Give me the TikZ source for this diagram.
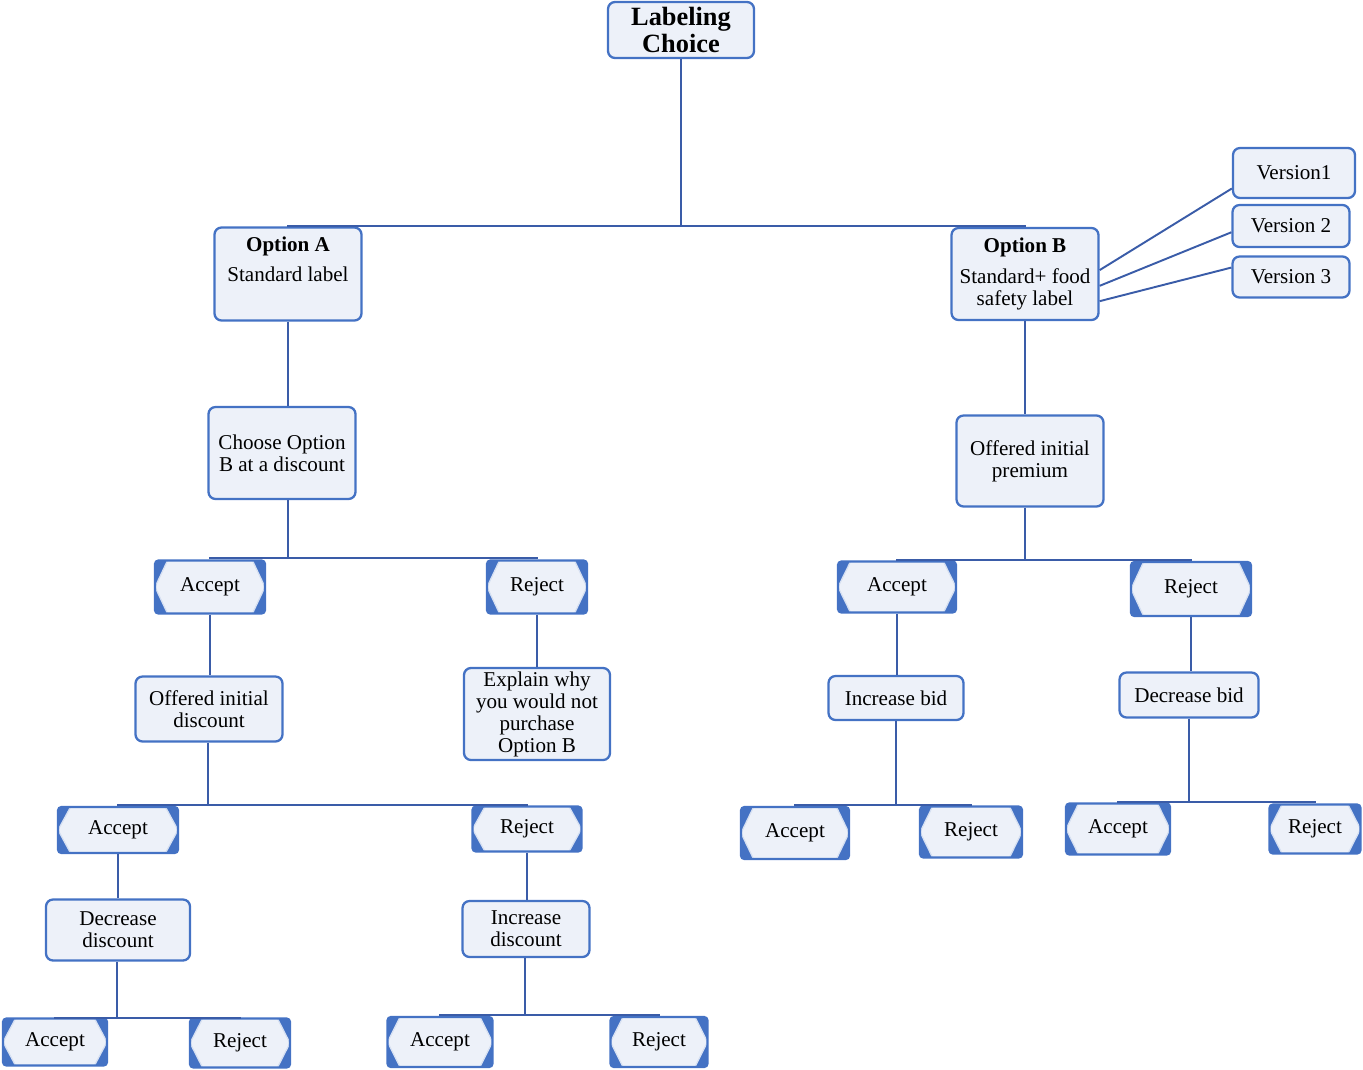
\documentclass[tikz,border=0pt]{standalone}
\usepackage{fontspec}
\setmainfont{Liberation Serif}
\usepackage{xcolor}

\definecolor{boxblue}{HTML}{4472C4}
\definecolor{boxfill}{HTML}{EDF1F9}
\definecolor{hexedge}{HTML}{D6E0F2}
\definecolor{linkblue}{HTML}{3A5CA8}

\tikzset{
  box/.style={draw=boxblue, line width=1.3pt, rounded corners=4pt, fill=boxfill,
    align=center, inner sep=2pt, font=\fontsize{12}{12.5}\selectfont},
  answer/.style={box, rounded corners=2pt, path picture={
      \fill[boxblue, sharp corners] (path picture bounding box.north west) -- ++(0.25cm,0pt) -- (path picture bounding box.west) -- cycle;
      \fill[boxblue, sharp corners] (path picture bounding box.north east) -- ++(-0.25cm,0pt) -- (path picture bounding box.east) -- cycle;
      \fill[boxblue, sharp corners] (path picture bounding box.south west) -- ++(0.25cm,0pt) -- (path picture bounding box.west) -- cycle;
      \fill[boxblue, sharp corners] (path picture bounding box.south east) -- ++(-0.25cm,0pt) -- (path picture bounding box.east) -- cycle;
      \draw[hexedge, line width=0.7pt, sharp corners] ([xshift=0.25cm]path picture bounding box.north west) -- (path picture bounding box.west) -- ([xshift=0.25cm]path picture bounding box.south west);
      \draw[hexedge, line width=0.7pt, sharp corners] ([xshift=-0.25cm]path picture bounding box.north east) -- (path picture bounding box.east) -- ([xshift=-0.25cm]path picture bounding box.south east);
    }},
  link/.style={draw=linkblue, line width=1.1pt}
}

\begin{document}
\begin{tikzpicture}[x=0.2mm, y=-0.2mm]
    \useasboundingbox (0,0) rectangle (1363,1069);

    % top of the tree
    \node[box, font=\fontsize{15}{15}\selectfont\bfseries, minimum width=2.92cm, minimum height=1.12cm] (choice) at (681,30) {Labeling\\Choice};
    \node[box, minimum width=2.94cm, minimum height=1.86cm] (optA) at (288,274) {\textbf{Option A}\\[0.16cm]Standard label\\[0.16cm]\mbox{}};
    \node[box, minimum width=2.94cm, minimum height=1.84cm] (optB) at (1025,274) {\textbf{Option B}\\[0.17cm]Standard+ food\\safety label};
    \node[box, minimum width=2.44cm, minimum height=1cm] (v1) at (1294,173) {Version1};
    \node[box, minimum width=2.34cm, minimum height=0.84cm] (v2) at (1291,226) {Version 2};
    \node[box, minimum width=2.34cm, minimum height=0.82cm] (v3) at (1291,277) {Version 3};

    % option A branch
    \node[box, minimum width=2.94cm, minimum height=1.84cm] (chooseB) at (282,453) {Choose Option\\B at a discount};
    \node[answer, minimum width=2.2cm, minimum height=1.06cm] (accA) at (210,587) {Accept};
    \node[answer, minimum width=2cm, minimum height=1.06cm] (rejA) at (537,587) {Reject};
    \node[box, minimum width=2.94cm, minimum height=1.3cm] (discA) at (209,709) {Offered initial\\discount};
    \node[box, minimum width=2.92cm, minimum height=1.84cm] (explain) at (537,714) {Explain why\\you would not\\purchase\\Option B};
    \node[answer, minimum width=2.4cm, minimum height=0.92cm] (accB) at (118,830) {Accept};
    \node[answer, minimum width=2.18cm, minimum height=0.9cm] (rejB) at (527,829) {Reject};
    \node[box, minimum width=2.88cm, minimum height=1.22cm] (decdisc) at (118,930) {Decrease\\discount};
    \node[box, minimum width=2.54cm, minimum height=1.12cm] (incdisc) at (526,929) {Increase\\discount};
    \node[answer, minimum width=2.08cm, minimum height=0.94cm] (accC) at (55,1042) {Accept};
    \node[answer, minimum width=2cm, minimum height=0.98cm] (rejC) at (240,1043) {Reject};
    \node[answer, minimum width=2.1cm, minimum height=1cm] (accD) at (440,1042) {Accept};
    \node[answer, minimum width=1.94cm, minimum height=1cm] (rejD) at (659,1042) {Reject};

    % option B branch
    \node[box, minimum width=2.94cm, minimum height=1.82cm] (premium) at (1030,461) {Offered initial\\premium};
    \node[answer, minimum width=2.36cm, minimum height=1.02cm] (accE) at (897,587) {Accept};
    \node[answer, minimum width=2.4cm, minimum height=1.08cm] (rejE) at (1191,589) {Reject};
    \node[box, minimum width=2.7cm, minimum height=0.88cm] (incbid) at (896,698) {Increase bid};
    \node[box, minimum width=2.78cm, minimum height=0.9cm] (decbid) at (1189,695) {Decrease bid};
    \node[answer, minimum width=2.16cm, minimum height=1.04cm] (accF) at (795,833) {Accept};
    \node[answer, minimum width=2.04cm, minimum height=1.02cm] (rejF) at (971,832) {Reject};
    \node[answer, minimum width=2.08cm, minimum height=1.02cm] (accG) at (1118,829) {Accept};
    \node[answer, minimum width=1.82cm, minimum height=0.98cm] (rejG) at (1315,829) {Reject};

    % junctions
    \coordinate (j0) at (681,226);
    \coordinate (j1) at (288,558);
    \coordinate (j2) at (208,805);
    \coordinate (j3) at (117,1018);
    \coordinate (j4) at (525,1015);
    \coordinate (j5) at (1025,560);
    \coordinate (j6) at (896,805);
    \coordinate (j7) at (1189,802);

    % connectors
    \draw[link] (choice) -- (j0);
    \draw[link] (optA.north) |- (j0) -| (optB.north);
    \draw[link] (optB.3) -- (v1.194);
    \draw[link] (optB.351) -- (v2.186);
    \draw[link] (optB.340) -- (v3.171);

    \draw[link] (optA.south) -- (optA.south |- chooseB.north);
    \draw[link] (chooseB.south -| j1) -- (j1);
    \draw[link] (accA.north) |- (j1) -| (rejA.north);
    \draw[link] (accA.south) -- (accA.south |- discA.north);
    \draw[link] (rejA.south) -- (rejA.south |- explain.north);
    \draw[link] (discA.south -| j2) -- (j2);
    \draw[link] (accB.north) |- (j2) -| (rejB.north);
    \draw[link] (accB.south) -- (accB.south |- decdisc.north);
    \draw[link] (rejB.south) -- (rejB.south |- incdisc.north);
    \draw[link] (decdisc.south -| j3) -- (j3);
    \draw[link] (accC.north) |- (j3) -| (rejC.north);
    \draw[link] (incdisc.south -| j4) -- (j4);
    \draw[link] (accD.north) |- (j4) -| (rejD.north);

    \draw[link] (optB.south) -- (optB.south |- premium.north);
    \draw[link] (premium.south -| j5) -- (j5);
    \draw[link] (accE.north) |- (j5) -| (rejE.north);
    \draw[link] (accE.south) -- (accE.south |- incbid.north);
    \draw[link] (rejE.south) -- (rejE.south |- decbid.north);
    \draw[link] (incbid.south -| j6) -- (j6);
    \draw[link] (accF.north) |- (j6) -| (rejF.north);
    \draw[link] (decbid.south -| j7) -- (j7);
    \draw[link] (accG.north) |- (j7) -| (rejG.north);
\end{tikzpicture}
\end{document}
